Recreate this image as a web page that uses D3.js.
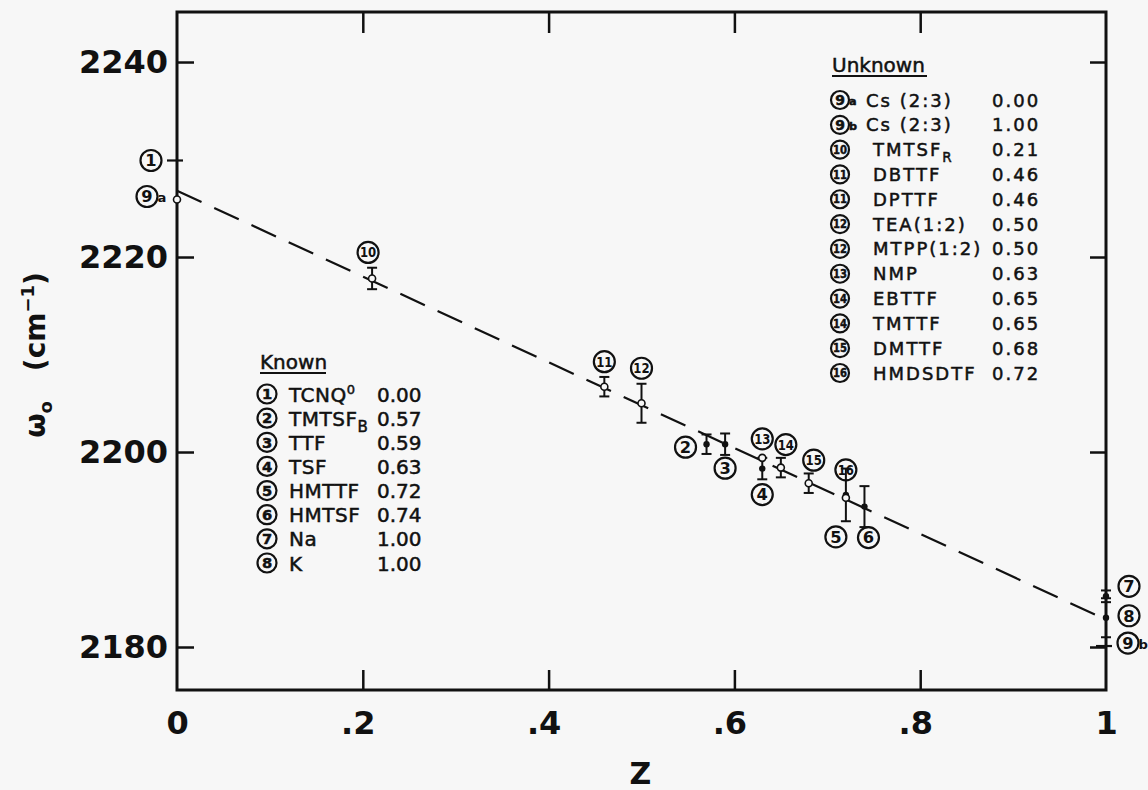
<!DOCTYPE html>
<html>
<head>
<meta charset="utf-8">
<script src="https://cdn.jsdelivr.net/npm/d3@7"></script>
<style>
body { margin: 0; background: #f7f7f7; }
svg { display: block; }
text { font-family: "DejaVu Sans", sans-serif; fill: #111; }
</style>
</head>
<body>
<script>
// axis ticks
var zTicks = [0, 0.2, 0.4, 0.6, 0.8, 1];
var zTickLabels = ['0', '.2', '.4', '.6', '.8', '1'];
var wTicks = [2180, 2200, 2220, 2240];

var pointIds   = ['1', '9a', '10', '11', '12', '2', '3', '13', '4', '14', '15', '5', '16', '6', '7', '8', '9b'];
var pointZ     = [0, 0, 0.21, 0.46, 0.50, 0.57, 0.59, 0.63, 0.63, 0.65, 0.68, 0.72, 0.72, 0.74, 1, 1, 1];
var pointOmega = [2229.9, 2225.9, 2217.8, 2206.7, 2205.0, 2200.8, 2200.8, 2199.4, 2198.3, 2198.4, 2196.8, 2195.6, 2195.3, 2194.4, 2185.2, 2183.0, 2180.1];
var pointErr   = [0, 0, 1.1, 1.0, 2.0, 1.0, 1.1, 0, 1.1, 1.0, 1.0, 2.7, 0, 2.1, 0.6, 2.0, 0];
var pointMark  = ['tick', 'open', 'open', 'open', 'open', 'dot', 'dot', 'open', 'dot', 'open', 'open', 'dot', 'open', 'dot', 'dot', 'dot', 'tick'];

// where each circled number sits relative to its point (px)
var labelDx = [-26, -30, -4, 0, 0, -21, 0, 0, 0, 5, 5, -10, 0, 4, 23, 23, 22];
var labelDy = [0, -3, -26, -25, -35, 3, 24, -19, 26, -23, -23, 42, -28, 31, -10, -2, -3];

// dashed fit line end points
var fitZ = [0, 1];
var fitOmega = [2226.8, 2182.8];

// legends
var knownIds = ['1', '2', '3', '4', '5', '6', '7', '8'];
var knownNames = ['TCNQ^0', 'TMTSF_B', 'TTF', 'TSF', 'HMTTF', 'HMTSF', 'Na', 'K'];
var knownZ = ['0.00', '0.57', '0.59', '0.63', '0.72', '0.74', '1.00', '1.00'];

var unknownIds = ['9a', '9b', '10', '11', '11', '12', '12', '13', '14', '14', '15', '16'];
var unknownNames = ['Cs (2:3)', 'Cs (2:3)', 'TMTSF_R', 'DBTTF', 'DPTTF', 'TEA(1:2)', 'MTPP(1:2)', 'NMP', 'EBTTF', 'TMTTF', 'DMTTF', 'HMDSDTF'];
var unknownZ = ['0.00', '1.00', '0.21', '0.46', '0.46', '0.50', '0.50', '0.63', '0.65', '0.65', '0.68', '0.72'];

var width = 1148, height = 790;
var plotLeft = 177, plotRight = 1106, plotTop = 12, plotBottom = 690;
var ink = '#111';

var svg = d3.select('body').append('svg')
	.attr('width', width)
	.attr('height', height);

svg.append('rect').attr('width', width).attr('height', height).attr('fill', '#f7f7f7');

var x = d3.scaleLinear().domain([0, 1]).range([plotLeft, plotRight]);
var y = d3.scaleLinear().domain([2175.59, 2245.13]).range([plotBottom, plotTop]);

// axes, ticks pointing inward
var xAxis = svg.append('g')
	.attr('transform', 'translate(0,' + plotBottom + ')')
	.call(d3.axisBottom(x).tickValues(zTicks).tickSizeInner(-20).tickSizeOuter(0).tickPadding(21)
		.tickFormat(function(d, i) { return zTickLabels[i]; }));
xAxis.selectAll('.tick line').filter(function(d) { return d == 0 || d == 1; }).remove();
xAxis.selectAll('.tick text')
	.attr('dx', function(d, i) { return zTickLabels[i].charAt(0) == '.' ? -5 : 0; });

svg.append('g')
	.attr('transform', 'translate(0,' + plotTop + ')')
	.call(d3.axisTop(x).tickValues(zTicks.slice(1, 5)).tickSizeInner(-21).tickSizeOuter(0).tickFormat(''));

svg.append('g')
	.attr('transform', 'translate(' + plotLeft + ',0)')
	.call(d3.axisLeft(y).tickValues(wTicks).tickSizeInner(-17).tickSizeOuter(0).tickPadding(9).tickFormat(d3.format('d')));

svg.append('g')
	.attr('transform', 'translate(' + plotRight + ',0)')
	.call(d3.axisRight(y).tickValues(wTicks).tickSizeInner(-16).tickSizeOuter(0).tickFormat(''));

svg.selectAll('.domain').remove();
svg.selectAll('.tick line').attr('stroke', ink).attr('stroke-width', 2.5);
svg.selectAll('.tick text')
	.attr('fill', ink)
	.style('font-family', '"DejaVu Sans", sans-serif')
	.style('font-size', '32px')
	.style('font-weight', 'bold');

// frame
svg.append('rect')
	.attr('x', plotLeft).attr('y', plotTop)
	.attr('width', plotRight - plotLeft).attr('height', plotBottom - plotTop)
	.attr('fill', 'none').attr('stroke', ink).attr('stroke-width', 3);

// axis titles
svg.append('text')
	.attr('x', (plotLeft + plotRight) / 2 - 1).attr('y', 784)
	.attr('text-anchor', 'middle')
	.style('font-size', '30px').style('font-weight', 'bold')
	.text('Z');

var yTitle = svg.append('text')
	.attr('transform', 'translate(45,355) rotate(-90)')
	.attr('text-anchor', 'middle')
	.style('font-size', '28px').style('font-weight', 'bold');
yTitle.append('tspan').text('ω');
yTitle.append('tspan').attr('dy', 7).style('font-size', '18px').text('o');
yTitle.append('tspan').attr('dy', -7).attr('dx', 30).text('(cm');
yTitle.append('tspan').attr('dy', -11).style('font-size', '18px').text('−1');
yTitle.append('tspan').attr('dy', 11).text(')');

// dashed least squares line
var fitData = fitZ.map(function(d, i) { return [d, fitOmega[i]]; });
svg.append('path')
	.datum(fitData)
	.attr('d', d3.line().x(function(d) { return x(d[0]); }).y(function(d) { return y(d[1]); }))
	.attr('fill', 'none')
	.attr('stroke', ink)
	.attr('stroke-width', 2.2)
	.attr('stroke-dasharray', '27,14');

// points
var points = pointIds.map(function(id, i) {
	return { id: id, z: pointZ[i], w: pointOmega[i], e: pointErr[i], mark: pointMark[i], dx: labelDx[i], dy: labelDy[i] };
});

var bars = svg.append('g').selectAll('g')
	.data(points.filter(function(d) { return d.e > 0; }))
	.enter().append('g')
	.attr('stroke', ink).attr('stroke-width', 2);
bars.append('line')
	.attr('x1', function(d) { return x(d.z); }).attr('x2', function(d) { return x(d.z); })
	.attr('y1', function(d) { return y(d.w + d.e); }).attr('y2', function(d) { return y(d.w - d.e); });
bars.append('line')
	.attr('x1', function(d) { return x(d.z) - 5; }).attr('x2', function(d) { return x(d.z) + 5; })
	.attr('y1', function(d) { return y(d.w + d.e); }).attr('y2', function(d) { return y(d.w + d.e); });
bars.append('line')
	.attr('x1', function(d) { return x(d.z) - 5; }).attr('x2', function(d) { return x(d.z) + 5; })
	.attr('y1', function(d) { return y(d.w - d.e); }).attr('y2', function(d) { return y(d.w - d.e); });

var marks = svg.append('g');
points.forEach(function(d) {
	var px = x(d.z), py = y(d.w);
	if (d.mark == 'dot') {
		marks.append('circle').attr('cx', px).attr('cy', py).attr('r', 3.2).attr('fill', ink);
	} else if (d.mark == 'open') {
		marks.append('circle').attr('cx', px).attr('cy', py).attr('r', 3.5)
			.attr('fill', '#f7f7f7').attr('stroke', ink).attr('stroke-width', 1.6);
	} else {
		marks.append('line').attr('x1', px - 10).attr('x2', px + 6).attr('y1', py).attr('y2', py)
			.attr('stroke', ink).attr('stroke-width', 2.2);
	}
});

// circled number
function circled(g, id, cx, cy, r) {
	var num = id.replace(/[ab]$/, '');
	var sub = id.match(/[ab]$/);
	g.append('circle').attr('cx', cx).attr('cy', cy).attr('r', r)
		.attr('fill', 'none').attr('stroke', ink).attr('stroke-width', 2.2);
	var t = g.append('text')
		.attr('x', cx).attr('y', cy).attr('dy', '0.36em')
		.attr('text-anchor', 'middle')
		.style('font-size', (num.length > 1 ? r * 1.3 : r * 1.55) + 'px')
		.style('font-weight', 'bold')
		.text(num);
	if (num.length > 1) t.attr('textLength', r * 1.55).attr('lengthAdjust', 'spacingAndGlyphs');
	if (sub) {
		g.append('text').attr('x', cx + r).attr('y', cy + r * 0.55)
			.style('font-size', (r * 1.25) + 'px').style('font-weight', 'bold').text(sub[0]);
	}
}

var labels = svg.append('g');
points.forEach(function(d) {
	circled(labels, d.id, x(d.z) + d.dx, y(d.w) + d.dy, 10.5);
});

// name with ^sup and _sub parts
function writeName(t, s) {
	var m = s.match(/^([^\^_]*)([\^_])?(.*)$/);
	t.append('tspan').text(m[1]);
	if (m[2] == '^') t.append('tspan').attr('dy', -8).style('font-size', '0.65em').text(m[3]);
	if (m[2] == '_') t.append('tspan').attr('dy', 6).style('font-size', '0.75em').text(m[3]);
}

// Known legend
var knownRow = d3.scalePoint().domain(d3.range(knownIds.length)).range([394, 563]);
var kg = svg.append('g').style('stroke', ink).style('stroke-width', 0.5);
kg.append('text').attr('x', 260).attr('y', 369).style('font-size', '20px').text('Known');
kg.append('line').attr('x1', 260).attr('x2', 326).attr('y1', 373).attr('y2', 373)
	.attr('stroke', ink).attr('stroke-width', 2);
knownIds.forEach(function(id, i) {
	var ry = knownRow(i);
	circled(kg, id, 267, ry, 9.5);
	var t = kg.append('text').attr('x', 289).attr('y', ry + 7.5)
		.style('font-size', '20px').style('letter-spacing', '0.5px');
	writeName(t, knownNames[i]);
	kg.append('text').attr('x', 377).attr('y', ry + 7.5)
		.style('font-size', '20px').text(knownZ[i]);
});

// Unknown legend
var unknownRow = d3.scalePoint().domain(d3.range(unknownIds.length)).range([100, 373]);
var ug = svg.append('g').style('stroke', ink).style('stroke-width', 0.5);
ug.append('text').attr('x', 832).attr('y', 72).style('font-size', '20px').text('Unknown');
ug.append('line').attr('x1', 832).attr('x2', 927).attr('y1', 76).attr('y2', 76)
	.attr('stroke', ink).attr('stroke-width', 2);
unknownIds.forEach(function(id, i) {
	var ry = unknownRow(i);
	circled(ug, id, 840, ry, 9);
	var t = ug.append('text').attr('x', /[ab]$/.test(id) ? 866 : 873).attr('y', ry + 6.5)
		.style('font-size', '18px').style('letter-spacing', '2px');
	writeName(t, unknownNames[i]);
	ug.append('text').attr('x', 992).attr('y', ry + 6.5)
		.style('font-size', '18px').style('letter-spacing', '2px').text(unknownZ[i]);
});
</script>
</body>
</html>
